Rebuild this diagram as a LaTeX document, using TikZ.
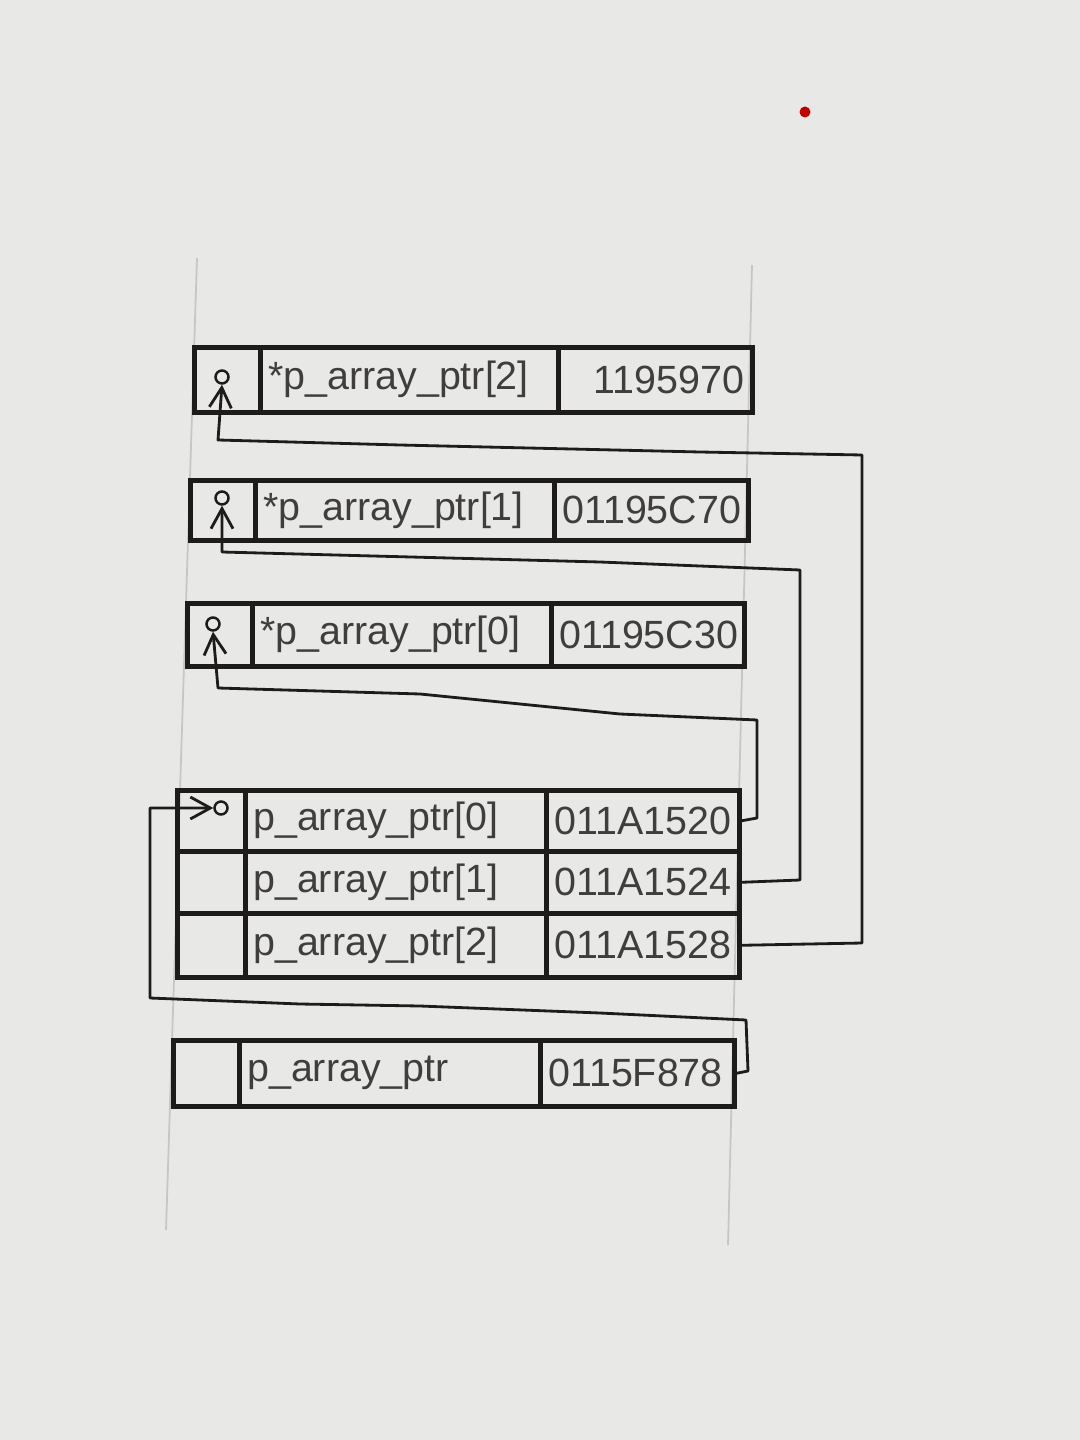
\documentclass[tikz,border=0pt]{standalone}
\usepackage{fontspec}
\setmainfont{Liberation Sans}
\usetikzlibrary{arrows.meta}
\definecolor{paper}{HTML}{E8E8E6}
\definecolor{ink}{HTML}{1E1C1A}
\tikzset{
  cell/.style={draw=ink, line width=1.3pt, inner xsep=0.08cm, inner ysep=0pt,
    font=\fontsize{11.2}{13}\selectfont, text=ink!85, align=left},
  hand/.style={draw=ink, line width=0.8pt, line join=round,
    -{Straight Barb[length=2mm, width=2.2mm, line width=0.8pt]}},
  tipcirc/.style={circle, draw=ink, line width=0.7pt, inner sep=0pt, minimum size=0.13cm},
  margin/.style={draw=gray!45, line width=0.5pt}
}
\newcommand\mycell[6][left]{%
  \node[cell, align=#1, anchor=north west, minimum width={#4*0.01cm}, minimum height={#5*0.01cm},
    text width={#4*0.01cm-0.16cm}] (#2) at (#3) {\raisebox{-0.04cm}{#6}};}
\begin{document}
\begin{tikzpicture}[x=0.01cm,y=-0.01cm]
\path[fill=paper] (0,0) rectangle (1080,1440);
\useasboundingbox (0,0) rectangle (1080,1440);
% faint margin lines and red dot
\draw[margin] (197,258) -- (166,1230);
\draw[margin] (752,265) -- (728,1245);
\fill[red!75!black] (805,112) circle (0.055cm);
% box A
\mycell{a1}{192,345}{66}{65}{}
\mycell{a2}{258,345}{298}{65}{*p\_array\_ptr[2]}
\mycell[right]{a3}{556,345}{194}{65}{1195970}
% box B
\mycell{b1}{188,478}{65}{60}{}
\mycell{b2}{253,478}{299}{60}{*p\_array\_ptr[1]}
\mycell{b3}{552,478}{194}{60}{01195C70}
% box C
\mycell{c1}{185,601}{65}{63}{}
\mycell{c2}{250,601}{299}{63}{*p\_array\_ptr[0]}
\mycell{c3}{549,601}{193}{63}{01195C30}
% box D
\mycell{d01}{175,788}{68}{61}{}
\mycell{d02}{243,788}{301}{61}{p\_array\_ptr[0]}
\mycell{d03}{544,788}{193}{61}{011A1520}
\mycell{d11}{175,849}{68}{62}{}
\mycell{d12}{243,849}{301}{62}{p\_array\_ptr[1]}
\mycell{d13}{544,849}{193}{62}{011A1524}
\mycell{d21}{175,911}{68}{64}{}
\mycell{d22}{243,911}{301}{64}{p\_array\_ptr[2]}
\mycell{d23}{544,911}{193}{64}{011A1528}
% box E
\mycell{e1}{171,1038}{66}{66}{}
\mycell{e2}{237,1038}{301}{66}{p\_array\_ptr}
\mycell{e3}{538,1038}{194}{66}{0115F878}
% pointer targets
\node[tipcirc] (t0) at (221,808) {};
\node[tipcirc] (t1) at (213,624) {};
\node[tipcirc] (t2) at (222,498) {};
\node[tipcirc] (t3) at (222,377) {};
% hand-drawn pointers
\draw[hand] (e3.east) -- (748,1071) -- (746,1020) -- (600,1013) -- (420,1006) -- (300,1004) -- (150,998) -- (150,808) -- (t0.west);
\draw[hand] (d03.east) -- (757,818) -- (757,720) -- (620,714) -- (420,694) -- (218,688) -- (t1.south);
\draw[hand] (d13.east) -- (800,880) -- (800,570) -- (600,562) -- (222,552) -- (t2.south);
\draw[hand] (d23.east) -- (862,943) -- (862,455) -- (700,452) -- (400,445) -- (218,440) -- (t3.south);
\end{tikzpicture}
\end{document}
